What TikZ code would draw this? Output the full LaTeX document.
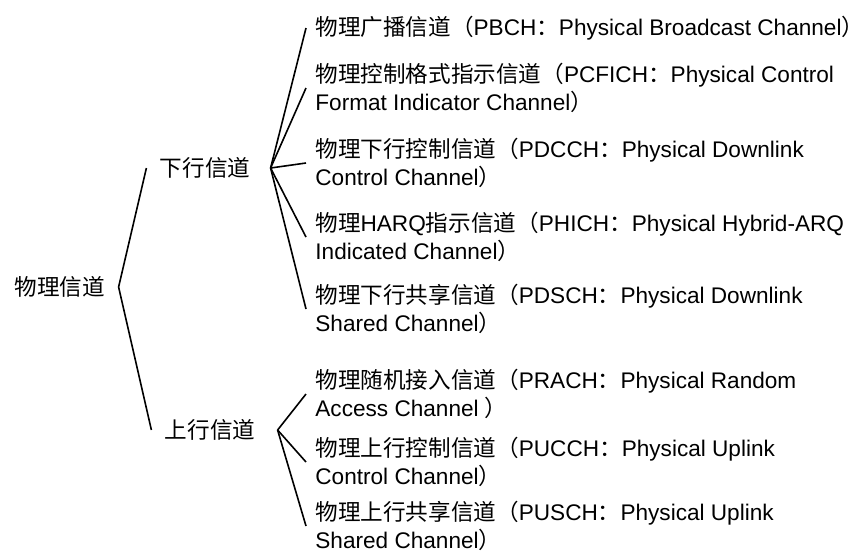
\documentclass[tikz,border=0pt]{standalone}
\usepackage{fontspec}
\setmainfont{Liberation Sans}
\newfontfamily\cjk{Noto Sans CJK SC}
\newcommand{\zh}[1]{{\cjk #1}}
\usetikzlibrary{positioning}
\tikzset{
	chan/.style={inner ysep=0pt, inner xsep=6.5pt, font=\fontsize{11.3}{14}\selectfont},
	leaf/.style={anchor=west, align=left, inner ysep=0pt, inner xsep=4.5pt, font=\fontsize{11.3}{14}\selectfont},
	branch/.style={color=black, line width=0.8pt}
}

\begin{document}
\begin{tikzpicture}[x=0.5pt,y=-0.5pt]
		\useasboundingbox (0,0) rectangle (868,554);
		
		\node [chan] (phy) at (60,287) {\zh{物理信道}};
		\node [chan] (dl) at (205,168) {\zh{下行信道}};
		\node [chan] (ul) at (210,430) {\zh{上行信道}};
		
		\node [leaf] (pbch) at (306,28) {\zh{物理广播信道（}PBCH\zh{：}Physical Broadcast Channel\zh{）}};
		\node [leaf] (pcfich) at (306,88) {\zh{物理控制格式指示信道（}PCFICH\zh{：}Physical Control\\Format Indicator Channel\zh{）}};
		\node [leaf] (pdcch) at (306,163) {\zh{物理下行控制信道（}PDCCH\zh{：}Physical Downlink\\Control Channel\zh{）}};
		\node [leaf] (phich) at (306,237) {\zh{物理}HARQ\zh{指示信道（}PHICH\zh{：}Physical Hybrid-ARQ\\Indicated Channel\zh{）}};
		\node [leaf] (pdsch) at (306,309) {\zh{物理下行共享信道（}PDSCH\zh{：}Physical Downlink\\Shared Channel\zh{）}};
		\node [leaf] (prach) at (306,394) {\zh{物理随机接入信道（}PRACH\zh{：}Physical Random\\Access Channel \zh{）}};
		\node [leaf] (pucch) at (306,462) {\zh{物理上行控制信道（}PUCCH\zh{：}Physical Uplink\\Control Channel\zh{）}};
		\node [leaf] (pusch) at (306,526) {\zh{物理上行共享信道（}PUSCH\zh{：}Physical Uplink\\Shared Channel\zh{）}};
		
		\draw [branch] (dl.west) -- (phy.east) -- (ul.west);
		\foreach \c in {pbch,pcfich,pdcch,phich,pdsch}
			\draw [branch] ([xshift=3.5pt]dl.east) -- (\c.west);
		\foreach \c in {prach,pucch,pusch}
			\draw [branch] ([xshift=4.5pt]ul.east) -- (\c.west);
		
	\end{tikzpicture}
\end{document}
